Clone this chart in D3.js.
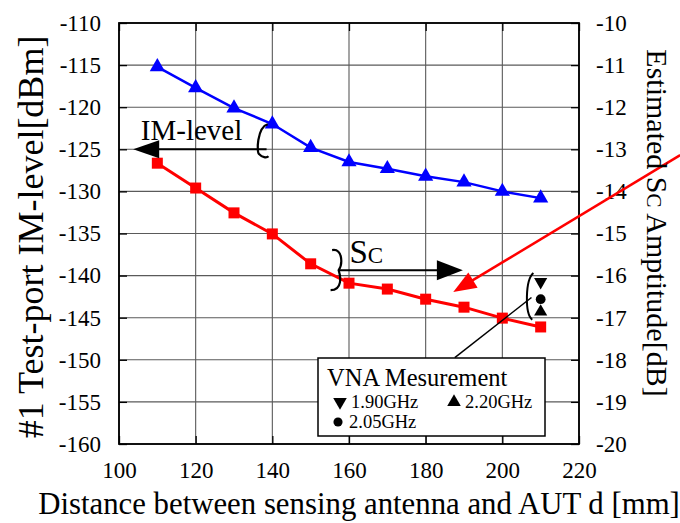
<!DOCTYPE html>
<html>
<head>
<meta charset="utf-8">
<script src="https://cdn.jsdelivr.net/npm/d3@7"></script>
<style>
  body { margin: 0; background: #fff; }
  svg text { font-family: "Liberation Serif", "Times New Roman", serif; }
</style>
</head>
<body>
<svg id="chart" width="680" height="523"></svg>
<script>
// distance d [mm]
const distances = [110, 120, 130, 140, 150, 160, 170, 180, 190, 200, 210];
// IM-level [dBm] (left axis, blue)
const imLevel = [-115.2, -117.7, -120.1, -122.0, -124.8, -126.5, -127.3, -128.2, -128.9, -130.0, -130.8];
// estimated Sc amplitude [dB] (right axis, red)
const scAmp = [-13.33, -13.92, -14.51, -15.01, -15.72, -16.18, -16.32, -16.56, -16.75, -17.01, -17.22];
// VNA measurement at 210 mm (right axis)
const vnaFreqs = ["1.90GHz", "2.05GHz", "2.20GHz"];
const vnaValues = [-16.15, -16.56, -16.86];
const vnaDistance = 210;

const xTicks = [100, 120, 140, 160, 180, 200, 220];
const yLeftTicks = d3.range(-160, -109, 5);
const yRightTicks = d3.range(-20, -9, 1);

let svg = d3.select("#chart");
let margin = { top: 23, bottom: 79, left: 119, right: 101 };
let innerW = 680 - margin.left - margin.right;
let innerH = 523 - margin.top - margin.bottom;

let x = d3.scaleLinear().domain([100, 220]).range([0, innerW]);
let yL = d3.scaleLinear().domain([-160, -110]).range([innerH, 0]);
let yR = d3.scaleLinear().domain([-20, -10]).range([innerH, 0]);
let fmt = (d) => String(d);

let g = svg.append("g")
  .attr("transform", `translate(${margin.left},${margin.top})`);

// grid
g.append("g")
  .selectAll("line")
  .data(xTicks)
  .enter()
  .append("line")
  .attr("x1", (d) => x(d)).attr("x2", (d) => x(d))
  .attr("y1", 0).attr("y2", innerH)
  .attr("stroke", "#5a5a5a").attr("stroke-width", 1.1);

g.append("g")
  .selectAll("line")
  .data(yLeftTicks)
  .enter()
  .append("line")
  .attr("x1", 0).attr("x2", innerW)
  .attr("y1", (d) => yL(d)).attr("y2", (d) => yL(d))
  .attr("stroke", "#5a5a5a").attr("stroke-width", 1.1);

// axes: inward black ticks + labels
function styleAxis(a) {
  a.attr("font-family", null);
  a.select(".domain").remove();
  a.selectAll("line").attr("stroke", "#000").attr("stroke-width", 1.3);
  a.selectAll("text")
    .attr("font-size", 23).attr("fill", "#000")
    .style("font-family", "'Liberation Serif', 'Times New Roman', serif");
}

g.append("g")
  .attr("transform", `translate(0,${innerH})`)
  .call(d3.axisBottom(x).tickValues(xTicks).tickFormat(fmt).tickSizeInner(-8).tickSizeOuter(0).tickPadding(18))
  .call(styleAxis);

g.append("g")
  .call(d3.axisTop(x).tickValues(xTicks).tickFormat("").tickSizeInner(-8).tickSizeOuter(0))
  .call(styleAxis);

g.append("g")
  .call(d3.axisLeft(yL).tickValues(yLeftTicks).tickFormat(fmt).tickSizeInner(-8).tickSizeOuter(0).tickPadding(18))
  .call(styleAxis);

g.append("g")
  .attr("transform", `translate(${innerW},0)`)
  .call(d3.axisRight(yR).tickValues(yRightTicks).tickFormat(fmt).tickSizeInner(-8).tickSizeOuter(0).tickPadding(17))
  .call(styleAxis);

g.append("rect")
  .attr("width", innerW).attr("height", innerH)
  .attr("fill", "none").attr("stroke", "#000").attr("stroke-width", 1.8);

// blue series
let blueLine = d3.line().x((d, i) => x(distances[i])).y((d) => yL(d));
g.append("path")
  .datum(imLevel)
  .attr("d", blueLine)
  .attr("fill", "none").attr("stroke", "#0000ff").attr("stroke-width", 2.5);

g.selectAll(".tri")
  .data(imLevel)
  .enter()
  .append("path")
  .attr("class", "tri")
  .attr("transform", (d, i) => `translate(${x(distances[i])},${yL(d)})`)
  .attr("d", d3.symbol(d3.symbolTriangle, 100))
  .attr("fill", "#0000ff");

// red series
let redLine = d3.line().x((d, i) => x(distances[i])).y((d) => yR(d));
g.append("path")
  .datum(scAmp)
  .attr("d", redLine)
  .attr("fill", "none").attr("stroke", "#ff0000").attr("stroke-width", 3);

g.selectAll(".sq")
  .data(scAmp)
  .enter()
  .append("rect")
  .attr("class", "sq")
  .attr("x", (d, i) => x(distances[i]) - 5.5)
  .attr("y", (d) => yR(d) - 5.5)
  .attr("width", 11).attr("height", 11)
  .attr("fill", "#ff0000");

// VNA markers
const vnaSymbols = [d3.symbolTriangle, d3.symbolCircle, d3.symbolTriangle];
const vnaRot = [180, 0, 0];
g.selectAll(".vna")
  .data(vnaValues)
  .enter()
  .append("path")
  .attr("class", "vna")
  .attr("transform", (d, i) => `translate(${x(vnaDistance)},${yR(d)}) rotate(${vnaRot[i]})`)
  .attr("d", (d, i) => d3.symbol(vnaSymbols[i], 75)())
  .attr("fill", "#000");

// annotations (data coordinates)
function arrowHead(tipX, tipY, fromX, fromY, len, half, color) {
  let ang = Math.atan2(tipY - fromY, tipX - fromX);
  let bx = tipX - len * Math.cos(ang), by = tipY - len * Math.sin(ang);
  let px = -Math.sin(ang) * half, py = Math.cos(ang) * half;
  g.append("path")
    .attr("d", `M${tipX},${tipY}L${bx + px},${by + py}L${bx - px},${by - py}Z`)
    .attr("fill", color);
}

// IM-level arrow
let imY = yL(-125);
g.append("line")
  .attr("x1", x(103.5) + 20).attr("x2", x(138.5))
  .attr("y1", imY).attr("y2", imY)
  .attr("stroke", "#000").attr("stroke-width", 2);
arrowHead(x(103.7), imY, x(138), imY, 26, 9, "#000");
g.append("path")
  .attr("d", `M${x(138.8)},${imY - 25} C${x(136)},${imY - 22} ${x(135.8)},${imY + 4} ${x(136.6)},${imY + 5} C${x(137.3)},${imY + 8} ${x(138.5)},${imY + 9} ${x(139)},${imY + 7}`)
  .attr("fill", "none").attr("stroke", "#000").attr("stroke-width", 2.2);
g.append("text")
  .attr("x", x(105.7)).attr("y", imY - 9)
  .attr("font-size", 29)
  .text("IM-level");

// Sc arrow
let scY = yR(-15.87);
g.append("line")
  .attr("x1", x(157.3)).attr("x2", x(183))
  .attr("y1", scY).attr("y2", scY)
  .attr("stroke", "#000").attr("stroke-width", 2);
arrowHead(x(189.7), scY, x(157), scY, 26, 10, "#000");
g.append("path")
  .attr("d", `M${x(155.6)},${scY - 20} C${x(158.5)},${scY - 22} ${x(158.3)},${scY - 5} ${x(157.3)},${scY} C${x(157.8)},${scY + 6} ${x(158.4)},${scY + 20} ${x(155.2)},${scY + 20}`)
  .attr("fill", "none").attr("stroke", "#000").attr("stroke-width", 2.2);
let scText = g.append("text")
  .attr("x", x(160.1)).attr("y", scY - 7);
scText.append("tspan").attr("font-size", 33).text("S");
scText.append("tspan").attr("font-size", 23).text("C");

// red pointer arrow to right axis
let rTipX = x(187.2), rTipY = yR(-16.39);
let rFromX = x(246.4), rFromY = yR(-13.14);
let rAng = Math.atan2(rTipY - rFromY, rTipX - rFromX);
g.append("line")
  .attr("x1", rFromX).attr("y1", rFromY)
  .attr("x2", rTipX - 20 * Math.cos(rAng)).attr("y2", rTipY - 20 * Math.sin(rAng))
  .attr("stroke", "#ff0000").attr("stroke-width", 2.5);
arrowHead(rTipX, rTipY, rFromX, rFromY, 23, 9, "#ff0000");

// VNA bracket and leader
g.append("path")
  .attr("d", `M${x(208.1)},${yR(-15.94)} C${x(206.0)},${yR(-16.1)} ${x(205.8)},${yR(-16.9)} ${x(207.8)},${yR(-17.05)}`)
  .attr("fill", "none").attr("stroke", "#000").attr("stroke-width", 2);
g.append("line")
  .attr("x1", x(207.6)).attr("y1", yR(-16.52))
  .attr("x2", x(187.6)).attr("y2", yR(-17.95))
  .attr("stroke", "#000").attr("stroke-width", 1.5);

// legend
let lg = svg.append("g").attr("transform", "translate(318,358)");
lg.append("rect")
  .attr("width", 227).attr("height", 78)
  .attr("fill", "#fff").attr("stroke", "#000").attr("stroke-width", 1.5);
lg.append("text").attr("x", 9).attr("y", 28).attr("font-size", 24.5).text("VNA Mesurement");
const legPos = [[22, 49], [20, 69], [136, 49]];
lg.selectAll(".lsym")
  .data(vnaFreqs)
  .enter()
  .append("path")
  .attr("transform", (d, i) => `translate(${legPos[i][0]},${legPos[i][1] - 5}) rotate(${vnaRot[i]})`)
  .attr("d", (d, i) => d3.symbol(vnaSymbols[i], i === 1 ? 65 : 80)())
  .attr("fill", "#000");
lg.selectAll(".ltxt")
  .data(vnaFreqs)
  .enter()
  .append("text")
  .attr("x", (d, i) => legPos[i][0] + 11)
  .attr("y", (d, i) => legPos[i][1] + 1)
  .attr("font-size", 18.5)
  .text((d) => d);

// axis titles
svg.append("text")
  .attr("text-anchor", "middle")
  .attr("x", 359).attr("y", 514)
  .attr("font-size", 30.8)
  .text("Distance between sensing antenna and AUT d [mm]");

svg.append("text")
  .attr("text-anchor", "middle")
  .attr("transform", "translate(43,237) rotate(-90)")
  .attr("font-size", 36)
  .text("#1 Test-port IM-level[dBm]");

let rt = svg.append("text")
  .attr("text-anchor", "middle")
  .attr("transform", "translate(647,223) rotate(90)")
  .attr("font-size", 30);
rt.append("tspan").text("Estimated S");
rt.append("tspan").attr("font-size", 21).text("C");
rt.append("tspan").text(" Amptitude[dB]");
</script>
</body>
</html>
